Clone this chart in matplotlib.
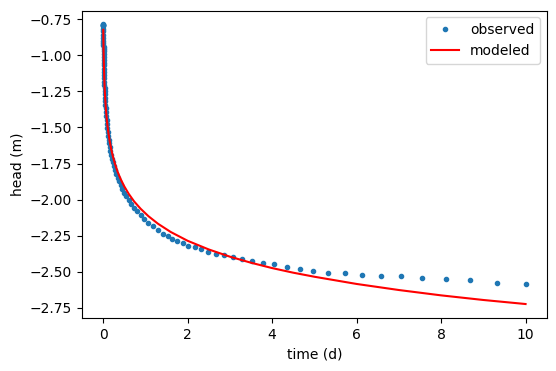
import matplotlib
matplotlib.use("Agg")
import matplotlib.pyplot as plt

# observed drawdown (time in days, head in m)
t_obs = [0.0007, 0.0014, 0.0021, 0.0028, 0.0035, 0.0042, 0.0049, 0.0056, 0.0063,
         0.0069, 0.0076, 0.0083, 0.0090, 0.0097, 0.0104, 0.0111, 0.0125, 0.0139,
         0.0153, 0.0167, 0.0181, 0.0201, 0.0222, 0.0243, 0.0264, 0.0292, 0.0319,
         0.0347, 0.0382, 0.0417, 0.0458, 0.0500, 0.0549, 0.0604, 0.0667, 0.0736,
         0.0813, 0.0896, 0.0986, 0.108, 0.119, 0.131, 0.144, 0.159, 0.175, 0.193,
         0.212, 0.233, 0.257, 0.283, 0.311, 0.342, 0.376, 0.414, 0.455, 0.501,
         0.551, 0.606, 0.667, 0.733, 0.807, 0.887, 0.976, 1.074, 1.181, 1.299,
         1.429, 1.534, 1.63, 1.739, 1.881, 1.999, 2.171, 2.313, 2.478, 2.667,
         2.856, 3.068, 3.281, 3.526, 3.776, 4.036, 4.352, 4.649, 4.980, 5.334,
         5.735, 6.136, 6.585, 7.057, 7.553, 8.119, 8.685, 9.323, 10.007]
h_obs = [-0.787, -0.788, -0.789, -0.789, -0.790, -0.800, -0.815, -0.835, -0.860,
         -0.880, -0.898, -0.914, -0.929, -0.943, -0.956, -0.968, -0.991, -1.013,
         -1.033, -1.052, -1.070, -1.093, -1.116, -1.138, -1.157, -1.182, -1.204,
         -1.225, -1.249, -1.271, -1.295, -1.318, -1.342, -1.368, -1.394, -1.420,
         -1.446, -1.473, -1.503, -1.532, -1.559, -1.585, -1.611, -1.638, -1.664,
         -1.691, -1.716, -1.742, -1.769, -1.795, -1.821, -1.847, -1.873, -1.899,
         -1.925, -1.951, -1.977, -2.003, -2.029, -2.055, -2.081, -2.107, -2.133,
         -2.159, -2.185, -2.211, -2.237, -2.255, -2.271, -2.287, -2.300, -2.319,
         -2.329, -2.345, -2.361, -2.375, -2.382, -2.396, -2.410, -2.422, -2.436,
         -2.443, -2.465, -2.480, -2.494, -2.507, -2.507, -2.519, -2.526, -2.532,
         -2.546, -2.553, -2.560, -2.574, -2.581]

# modeled head
t_mod = [0.0038, 0.0042, 0.0049, 0.0056, 0.0069, 0.0083, 0.0097, 0.0111, 0.0139,
         0.0167, 0.0201, 0.0243, 0.0292, 0.0347, 0.0417, 0.0500, 0.0604, 0.0736,
         0.0896, 0.108, 0.131, 0.159, 0.193, 0.233, 0.283, 0.342, 0.414, 0.501,
         0.606, 0.733, 0.887, 1.074, 1.299, 1.6, 2.0, 2.5, 3.0, 3.5, 4.0, 4.5,
         5.0, 6.0, 7.0, 8.0, 9.0, 10.0]
h_mod = [-0.824, -0.832, -0.848, -0.863, -0.890, -0.918, -0.944, -0.967, -1.010,
         -1.047, -1.086, -1.129, -1.171, -1.212, -1.256, -1.301, -1.349, -1.399,
         -1.450, -1.499, -1.549, -1.601, -1.652, -1.702, -1.754, -1.806, -1.857,
         -1.908, -1.960, -2.012, -2.063, -2.115, -2.167, -2.224, -2.285, -2.345,
         -2.395, -2.437, -2.474, -2.506, -2.534, -2.584, -2.626, -2.663, -2.695,
         -2.723]

fig = plt.figure(figsize=(5.56, 3.71), dpi=100)
ax = fig.add_axes([82 / 556, 53 / 371, 465 / 556, 307.5 / 371])
ax.plot(t_obs, h_obs, '.', label='observed')
ax.plot(t_mod, h_mod, 'r', label='modeled')
ax.set_xlabel('time (d)')
ax.set_ylabel('head (m)')
ax.legend()
fig.savefig('out.png', dpi=100)
